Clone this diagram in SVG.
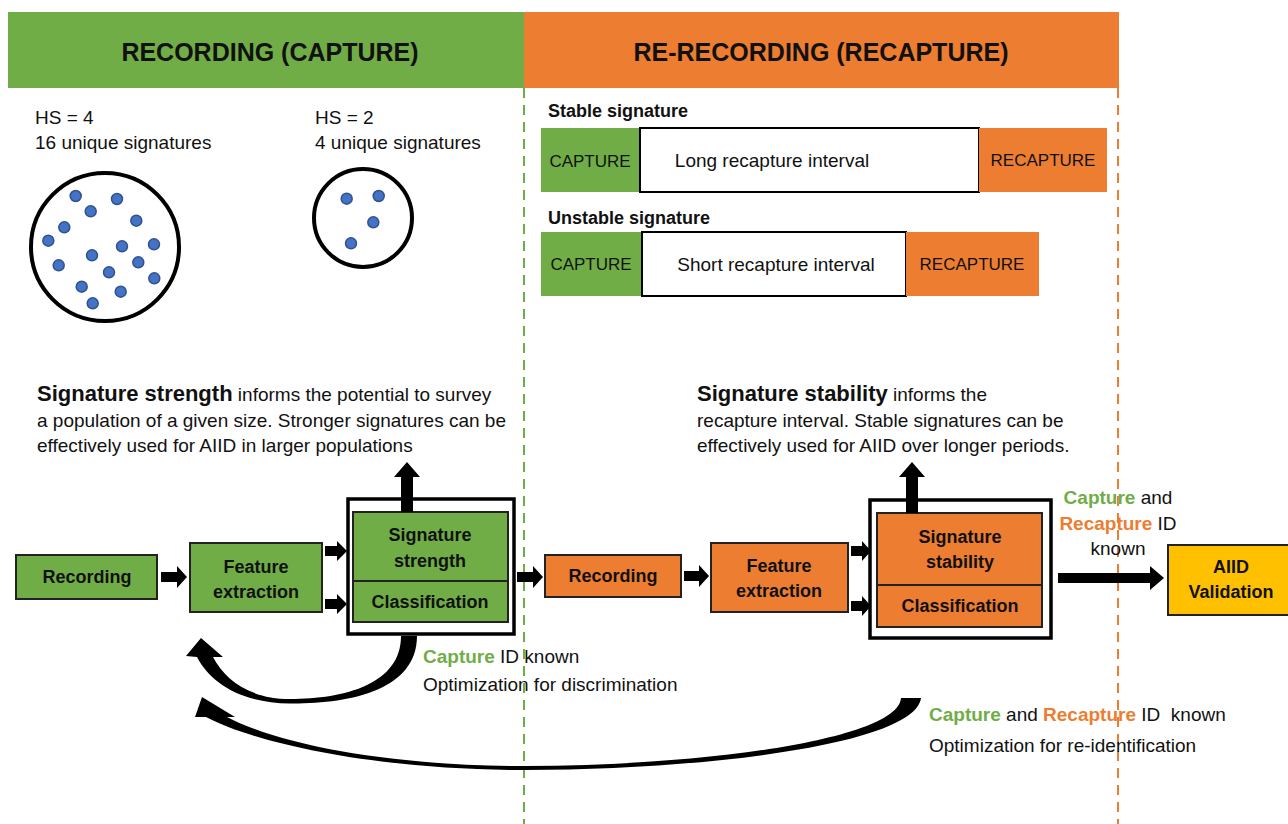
<svg xmlns="http://www.w3.org/2000/svg" width="1288" height="824" viewBox="0 0 1288 824">
<style>
text{font-family:"Liberation Sans",Arial,sans-serif;fill:#111}
.hdr{font-size:25px;font-weight:bold;text-anchor:middle}
.t{font-size:19px}
.cap{font-size:17px;text-anchor:middle}
.b{font-weight:bold}
.lb{font-size:18px;font-weight:bold}
.c{text-anchor:middle}
.bx{font-size:18px;font-weight:bold;text-anchor:middle}
.g{fill:#70AD47;stroke:none}
.o{fill:#ED7D31;stroke:none}
.gb{fill:#70AD47;stroke:#222;stroke-width:2}
.ob{fill:#ED7D31;stroke:#222;stroke-width:2}
.outer{fill:#fff;stroke:#000;stroke-width:3.5}
.dot{fill:#4472C4;stroke:#2F528F;stroke-width:1.5}
.arr{fill:#000}
.gt{fill:#70AD47;font-weight:bold}
.ot{fill:#ED7D31;font-weight:bold}
</style>

<g id="headers">
<rect x="8" y="12" width="516" height="76" class="g"/>
<rect x="524" y="12" width="595" height="76" class="o"/>
<text x="270" y="61" class="hdr">RECORDING (CAPTURE)</text>
<text x="821" y="61" class="hdr">RE-RECORDING (RECAPTURE)</text>
</g>

<g id="dividers">
<line x1="524" y1="88" x2="524" y2="824" stroke="#70AD47" stroke-width="2" stroke-dasharray="10,7"/>
<line x1="1118" y1="88" x2="1118" y2="824" stroke="#ED7D31" stroke-width="2" stroke-dasharray="10,7"/>
</g>

<g id="hs4">
<text x="35" y="124" class="t">HS = 4</text>
<text x="35" y="149" class="t">16 unique signatures</text>
<circle cx="105" cy="247" r="74" fill="#fff" stroke="#000" stroke-width="4"/>
<circle cx="75.7" cy="196" r="5.5" class="dot"/>
<circle cx="117" cy="199" r="5.5" class="dot"/>
<circle cx="90.7" cy="211.3" r="5.5" class="dot"/>
<circle cx="136.3" cy="220.7" r="5.5" class="dot"/>
<circle cx="64.3" cy="227.3" r="5.5" class="dot"/>
<circle cx="48.3" cy="240.7" r="5.5" class="dot"/>
<circle cx="122" cy="246.3" r="5.5" class="dot"/>
<circle cx="154" cy="244.3" r="5.5" class="dot"/>
<circle cx="92" cy="255.3" r="5.5" class="dot"/>
<circle cx="58.7" cy="265.3" r="5.5" class="dot"/>
<circle cx="138.3" cy="262.3" r="5.5" class="dot"/>
<circle cx="109" cy="272.3" r="5.5" class="dot"/>
<circle cx="154.3" cy="278.3" r="5.5" class="dot"/>
<circle cx="81.7" cy="286.7" r="5.5" class="dot"/>
<circle cx="120.7" cy="291.7" r="5.5" class="dot"/>
<circle cx="92.7" cy="303.3" r="5.5" class="dot"/>
</g>

<g id="hs2">
<text x="315" y="124" class="t">HS = 2</text>
<text x="315" y="149" class="t">4 unique signatures</text>
<circle cx="363" cy="218" r="49" fill="#fff" stroke="#000" stroke-width="4"/>
<circle cx="346.7" cy="198.7" r="5.5" class="dot"/>
<circle cx="378.7" cy="196" r="5.5" class="dot"/>
<circle cx="373.3" cy="222.3" r="5.5" class="dot"/>
<circle cx="351" cy="243.3" r="5.5" class="dot"/>
</g>

<g id="stable">
<text x="548" y="117" class="lb">Stable signature</text>
<rect x="541" y="128" width="99" height="64" class="g"/>
<rect x="640" y="128" width="339" height="64" fill="#fff" stroke="#000" stroke-width="2"/>
<rect x="979" y="128" width="128" height="64" class="o"/>
<text x="590" y="167" class="cap">CAPTURE</text>
<text x="772" y="167" class="t c">Long recapture interval</text>
<text x="1043" y="166" class="cap">RECAPTURE</text>
</g>

<g id="unstable">
<text x="548" y="224" class="lb">Unstable signature</text>
<rect x="541" y="232" width="101" height="64" class="g"/>
<rect x="642" y="232" width="264" height="64" fill="#fff" stroke="#000" stroke-width="2"/>
<rect x="906" y="232" width="133" height="64" class="o"/>
<text x="591" y="270" class="cap">CAPTURE</text>
<text x="776" y="271" class="t c">Short recapture interval</text>
<text x="972" y="270" class="cap">RECAPTURE</text>
</g>

<g id="strength-text">
<text x="37" y="401" class="t"><tspan class="b" font-size="22">Signature strength</tspan> informs the potential to survey</text>
<text x="37" y="427" class="t">a population of a given size. Stronger signatures can be</text>
<text x="37" y="452" class="t">effectively used for AIID in larger populations</text>
</g>

<g id="stability-text">
<text x="697" y="401" class="t"><tspan class="b" font-size="22">Signature stability</tspan> informs the</text>
<text x="697" y="427" class="t">recapture interval. Stable signatures can be</text>
<text x="697" y="452" class="t">effectively used for AIID over longer periods.</text>
</g>

<g id="rec-capture">
<rect x="16" y="555" width="141" height="44" class="gb"/>
<text x="87" y="583" class="bx">Recording</text>
</g>
<g id="feat-capture">
<rect x="190" y="543" width="132" height="69" class="gb"/>
<text x="256" y="573" class="bx">Feature</text>
<text x="256" y="598" class="bx">extraction</text>
</g>
<g id="strength-block">
<rect x="348" y="499" width="166" height="135" class="outer"/>
<rect x="353" y="512" width="155" height="69" class="gb"/>
<rect x="353" y="581" width="155" height="41" class="gb"/>
<text x="430" y="541" class="bx">Signature</text>
<text x="430" y="567" class="bx">strength</text>
<text x="430" y="608" class="bx">Classification</text>
</g>

<g id="rec-recapture">
<rect x="545" y="555" width="136" height="42" class="ob"/>
<text x="613" y="582" class="bx">Recording</text>
</g>
<g id="feat-recapture">
<rect x="711" y="543" width="137" height="69" class="ob"/>
<text x="779" y="572" class="bx">Feature</text>
<text x="779" y="597" class="bx">extraction</text>
</g>
<g id="stability-block">
<rect x="870" y="500" width="181" height="138" class="outer"/>
<rect x="877" y="513" width="165" height="72" class="ob"/>
<rect x="877" y="585" width="165" height="42" class="ob"/>
<text x="960" y="543" class="bx">Signature</text>
<text x="960" y="568" class="bx">stability</text>
<text x="960" y="612" class="bx">Classification</text>
</g>

<g id="aiid">
<rect x="1168" y="545" width="124" height="70" fill="#FFC000" stroke="#222" stroke-width="2"/>
<text x="1231" y="573" class="bx">AIID</text>
<text x="1231" y="598" class="bx">Validation</text>
</g>

<g id="connectors">
<polygon class="arr" points="161,572 177,572 177,566 187,577 177,588 177,582 161,582"/>
<polygon class="arr" points="325,546 337,546 337,541 347,551 337,561 337,556 325,556"/>
<polygon class="arr" points="325,599 337,599 337,594 347,604 337,614 337,609 325,609"/>
<polygon class="arr" points="401,512 401,477 394,477 407,462 420,477 413,477 413,512"/>
<polygon class="arr" points="517,572 533,572 533,566 543,577 533,588 533,582 517,582"/>
<polygon class="arr" points="684,571 699,571 699,565 709,576 699,587 699,581 684,581"/>
<polygon class="arr" points="851,546 862,546 862,541 871,551 862,561 862,556 851,556"/>
<polygon class="arr" points="851,601 862,601 862,596 871,606 862,616 862,611 851,611"/>
<polygon class="arr" points="906,513 906,477 899,477 912,462 925,477 918,477 918,513"/>
<polygon class="arr" points="1058,573 1150,573 1150,566 1164,578 1150,590 1150,583 1058,583"/>
<path class="arr" d="M 417 636 C 417 690, 350 704, 290 703.5 C 240 703, 210 682, 197 657 L 186 656 L 201 638 L 223 657 L 213 657 C 225 680, 250 699, 290 699 C 345 699, 401 684, 401 636 Z"/>
<path class="arr" d="M 921 698 C 915 745, 700 770, 525 770 C 380 770, 260 745, 206 717 L 195 717 L 202 697 L 235 717 L 227 717 C 280 745, 390 766, 525 766 C 700 766, 898 740, 901 698 Z"/>
</g>

<g id="labels">
<text x="1118" y="504" class="t c"><tspan class="gt">Capture</tspan> and</text>
<text x="1118" y="530" class="t c"><tspan class="ot">Recapture</tspan> ID</text>
<text x="1118" y="555" class="t c">known</text>
<text x="423" y="663" class="t"><tspan class="gt">Capture</tspan> ID known</text>
<text x="423" y="691" class="t">Optimization for discrimination</text>
<text x="929" y="721" class="t" xml:space="preserve"><tspan class="gt">Capture</tspan> and <tspan class="ot">Recapture</tspan> ID  known</text>
<text x="929" y="752" class="t">Optimization for re-identification</text>
</g>
</svg>
